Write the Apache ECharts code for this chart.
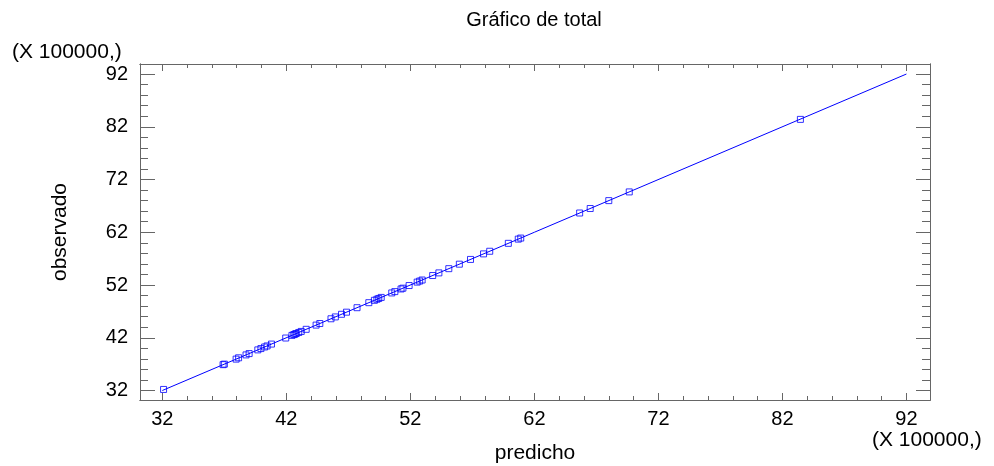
<!DOCTYPE html>
<html><head><meta charset="utf-8">
<script src="https://cdn.jsdelivr.net/npm/echarts@6/dist/echarts.min.js"></script>
<style>html,body{margin:0;padding:0;background:#fff}#c{width:994px;height:466px}</style>
</head><body><div id="c"></div>
<script>
const predicho = [32.1, 36.9, 37.0, 37.95, 38.15, 38.75, 39.0, 39.7, 39.95, 40.25, 40.45, 40.8, 41.95, 42.45, 42.6, 42.7, 42.8, 43.0, 43.2, 43.6, 44.4, 44.7, 45.6, 45.95, 46.45, 46.85, 47.7, 48.65, 49.1, 49.3, 49.45, 49.65, 50.5, 50.75, 51.25, 51.4, 51.9, 52.55, 52.75, 52.95, 53.8, 54.3, 55.1, 55.95, 56.85, 57.9, 58.4, 59.9, 60.7, 60.9, 65.65, 66.5, 68.0, 69.65, 83.45];
const observado = [32.2, 36.9, 37.0, 37.95, 38.2, 38.75, 39.0, 39.7, 39.95, 40.25, 40.45, 40.8, 41.95, 42.45, 42.6, 42.7, 42.8, 43.0, 43.2, 43.6, 44.4, 44.7, 45.6, 45.95, 46.45, 46.85, 47.7, 48.65, 49.1, 49.3, 49.45, 49.65, 50.5, 50.75, 51.25, 51.4, 51.9, 52.55, 52.75, 52.95, 53.8, 54.3, 55.1, 55.95, 56.85, 57.9, 58.4, 59.9, 60.7, 60.9, 65.65, 66.5, 68.0, 69.65, 83.4];
const fitX = [32, 92];
const fitY = [32, 92];
const majorTicks = [32, 42, 52, 62, 72, 82, 92];
const minorTicks = [32, 34, 36, 38, 40, 42, 44, 46, 48, 50, 52, 54, 56, 58, 60, 62, 64, 66, 68, 70, 72, 74, 76, 78, 80, 82, 84, 86, 88, 90, 92];
const axisMin = 30.2, axisMax = 93.9;

const FONT = '"Liberation Sans", Arial, sans-serif';
const frameColor = '#666';

function mkAxis(pos, ticks, len, showLabel, isX) {
  return {
    type: 'value', position: pos, min: axisMin, max: axisMax,
    axisLine: { show: true, onZero: false, lineStyle: { color: frameColor, width: 1 } },
    axisTick: { show: true, inside: true, length: len, customValues: ticks, lineStyle: { color: frameColor, width: 1 } },
    axisLabel: showLabel ? { show: true, customValues: majorTicks, color: '#000', fontFamily: FONT, fontSize: 20, margin: isX ? 9 : 12 } : { show: false },
    splitLine: { show: false }
  };
}

const chart = echarts.init(document.getElementById('c'));
chart.setOption({
  animation: false,
  backgroundColor: '#fff',
  grid: { left: 140, top: 64, right: 64, bottom: 66, containLabel: false },
  xAxis: [
    mkAxis('bottom', majorTicks, 7, true, true),
    mkAxis('bottom', minorTicks, 4, false, true),
    mkAxis('top', majorTicks, 7, false, true),
    mkAxis('top', minorTicks, 4, false, true)
  ],
  yAxis: [
    mkAxis('left', majorTicks, 15, true, false),
    mkAxis('left', minorTicks, 8, false, false),
    mkAxis('right', majorTicks, 14, false, false),
    mkAxis('right', minorTicks, 8, false, false)
  ],
  graphic: [
    { type: 'text', x: 534, y: 20, style: { text: 'Gráfico de total', font: '20px ' + FONT, fill: '#000', textAlign: 'center', textVerticalAlign: 'middle' } },
    { type: 'text', x: 535, y: 453, style: { text: 'predicho', font: '21px ' + FONT, fill: '#000', textAlign: 'center', textVerticalAlign: 'middle' } },
    { type: 'text', x: 60, y: 232, rotation: Math.PI / 2, style: { text: 'observado', font: '21px ' + FONT, fill: '#000', textAlign: 'center', textVerticalAlign: 'middle' } },
    { type: 'text', x: 12, y: 52, style: { text: '(X 100000,)', font: '21px ' + FONT, fill: '#000', textAlign: 'left', textVerticalAlign: 'middle' } },
    { type: 'text', x: 872, y: 440, style: { text: '(X 100000,)', font: '21px ' + FONT, fill: '#000', textAlign: 'left', textVerticalAlign: 'middle' } }
  ],
  series: [
    {
      type: 'line', xAxisIndex: 0, yAxisIndex: 0,
      data: fitX.map((x, i) => [x, fitY[i]]),
      showSymbol: false, symbol: 'none',
      lineStyle: { color: '#0000ff', width: 1 }, z: 2
    },
    {
      type: 'scatter', xAxisIndex: 0, yAxisIndex: 0,
      data: predicho.map((x, i) => [x, observado[i]]),
      symbol: 'rect', symbolSize: 6,
      itemStyle: { color: 'rgba(0,0,0,0)', borderColor: '#0000ff', borderWidth: 1 }, z: 3
    }
  ]
});
</script></body></html>
